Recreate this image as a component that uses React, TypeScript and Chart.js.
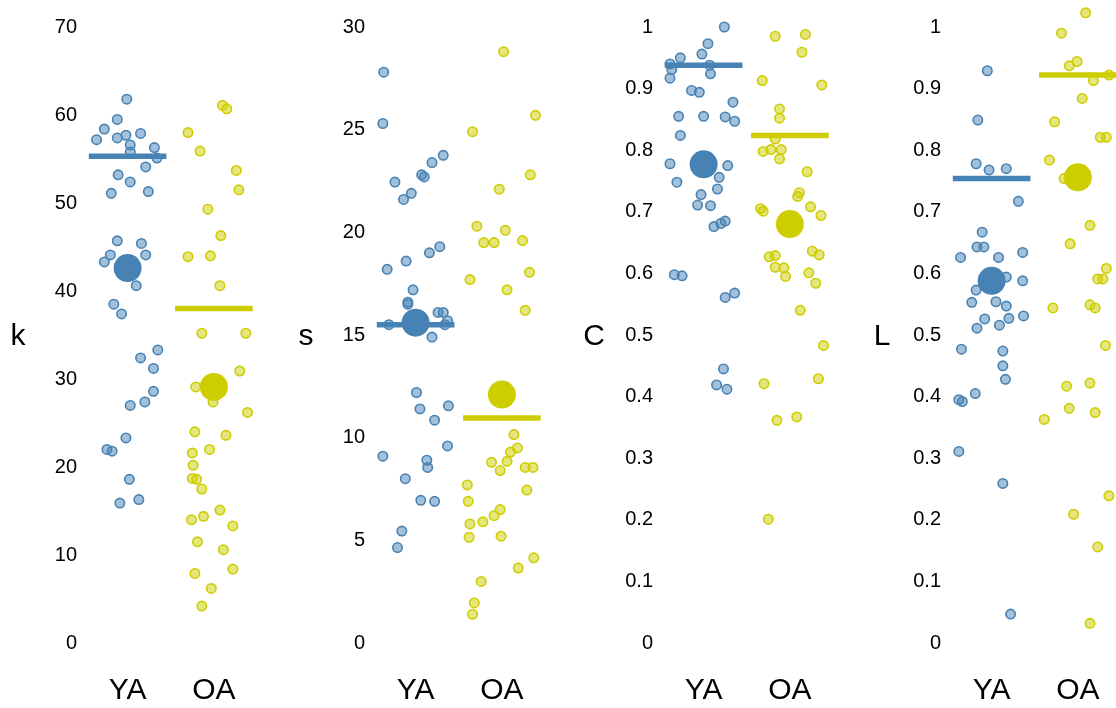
import React, { useEffect, useRef } from "react";
import { Chart, registerables } from "chart.js";

Chart.register(...registerables);

// ---------- data ----------
const categories = ["YA", "OA"];
const panelTitles = ["k", "s", "C", "L"];

// k panel
const kYA = [61.8, 59.5, 58.4, 57.2, 57.4, 57.7, 57.9, 56.6, 56.3, 55.8, 55.1, 54.1, 53.2, 52.4, 51.1, 51.3, 45.7, 45.4, 44.1, 44.1, 43.3, 40.6, 38.5, 37.4, 33.3, 32.4, 31.2, 28.6, 27.4, 27.0, 23.3, 22.0, 21.8, 18.6, 15.9, 16.3];
const kYAJitter = [-0.01, -0.12, -0.27, -0.36, -0.12, -0.02, 0.15, 0.03, 0.31, 0.03, 0.34, 0.21, -0.11, 0.03, -0.19, 0.24, -0.12, 0.16, -0.2, 0.21, -0.27, 0.1, -0.16, -0.07, 0.35, 0.15, 0.3, 0.3, 0.2, 0.03, -0.02, -0.24, -0.18, 0.02, -0.09, 0.13];
const kOA = [61.1, 60.7, 58.0, 55.9, 53.7, 51.5, 49.3, 46.3, 43.9, 44.0, 40.6, 35.2, 35.2, 30.9, 29.1, 27.4, 26.2, 24.0, 23.6, 22.0, 21.6, 20.2, 18.7, 18.6, 17.5, 15.1, 14.4, 14.0, 13.3, 11.5, 10.6, 7.9, 8.4, 6.2, 4.2];
const kOAJitter = [0.1, 0.15, -0.3, -0.16, 0.26, 0.29, -0.07, 0.08, -0.3, -0.04, 0.07, -0.14, 0.37, 0.3, -0.21, -0.01, 0.39, -0.22, 0.14, -0.05, -0.25, -0.24, -0.25, -0.2, -0.14, 0.07, -0.12, -0.26, 0.22, -0.19, 0.11, -0.22, 0.22, -0.03, -0.14];
const kMeans = [42.6, 29.1];
const kLines = [55.3, 38.0];
const kTicks = [0, 10, 20, 30, 40, 50, 60, 70];

// s panel
const sYA = [27.8, 25.3, 23.75, 23.4, 22.8, 22.7, 22.45, 21.9, 21.6, 19.3, 19.0, 18.6, 18.2, 17.2, 16.6, 16.5, 16.1, 16.1, 15.7, 15.5, 15.5, 14.9, 12.2, 11.4, 11.55, 10.85, 9.6, 9.1, 8.9, 8.55, 8.0, 6.95, 6.9, 5.45, 4.65];
const sYAJitter = [-0.37, -0.38, 0.32, 0.19, 0.07, 0.1, -0.24, -0.05, -0.14, 0.28, 0.16, -0.11, -0.33, -0.03, -0.09, -0.09, 0.26, 0.32, 0.37, 0.34, -0.31, 0.19, 0.01, 0.05, 0.38, 0.22, 0.37, -0.38, 0.13, 0.14, -0.12, 0.06, 0.22, -0.16, -0.21];
const sOA = [28.8, 25.7, 24.9, 22.8, 22.1, 20.3, 20.1, 19.5, 19.5, 19.6, 18.05, 17.7, 17.2, 16.2, 10.15, 9.5, 9.3, 8.8, 8.85, 8.4, 8.55, 8.55, 7.7, 7.45, 6.9, 6.5, 6.2, 5.9, 5.8, 5.15, 5.2, 4.15, 3.65, 3.0, 1.95, 1.4];
const sOAJitter = [0.02, 0.39, -0.34, 0.33, -0.03, -0.29, 0.04, -0.21, -0.09, 0.24, 0.32, -0.37, 0.06, 0.27, 0.14, 0.18, 0.1, -0.12, 0.06, -0.02, 0.27, 0.36, -0.4, 0.29, -0.39, -0.02, -0.09, -0.22, -0.37, -0.38, -0.01, 0.37, 0.19, -0.24, -0.32, -0.34];
const sMeans = [15.6, 12.1];
const sLines = [15.5, 10.96];
const sTicks = [0, 5, 10, 15, 20, 25, 30];

// C panel
const cYA = [1.0, 0.973, 0.956, 0.95, 0.94, 0.931, 0.938, 0.924, 0.917, 0.897, 0.894, 0.878, 0.855, 0.855, 0.854, 0.847, 0.824, 0.778, 0.775, 0.756, 0.748, 0.737, 0.728, 0.711, 0.71, 0.685, 0.681, 0.676, 0.598, 0.596, 0.561, 0.568, 0.445, 0.419, 0.412];
const cYAJitter = [0.24, 0.05, -0.02, -0.27, -0.39, -0.37, 0.07, 0.08, -0.39, -0.14, -0.05, 0.34, -0.29, 0.0, 0.25, 0.36, -0.27, -0.39, 0.28, 0.18, -0.31, 0.16, -0.03, -0.07, 0.08, 0.25, 0.2, 0.12, -0.34, -0.25, 0.25, 0.36, 0.23, 0.15, 0.27];
const cOA = [0.985, 0.988, 0.959, 0.913, 0.906, 0.867, 0.852, 0.818, 0.798, 0.801, 0.801, 0.786, 0.765, 0.731, 0.725, 0.705, 0.701, 0.708, 0.694, 0.627, 0.629, 0.636, 0.63, 0.61, 0.609, 0.595, 0.601, 0.584, 0.54, 0.483, 0.421, 0.429, 0.3615, 0.367, 0.201];
const cOAJitter = [-0.17, 0.18, 0.14, -0.32, 0.37, -0.12, -0.12, -0.17, -0.31, -0.22, -0.1, -0.12, 0.2, 0.11, 0.09, -0.34, -0.31, 0.24, 0.36, -0.24, -0.17, 0.26, 0.34, -0.17, -0.07, -0.05, 0.22, 0.3, 0.12, 0.39, -0.3, 0.33, -0.15, 0.08, -0.25];
const cMeans = [0.777, 0.68];
const cLines = [0.938, 0.824];
const cTicks = [0, 0.1, 0.2, 0.3, 0.4, 0.5, 0.6, 0.7, 0.8, 0.9, 1];

// L panel
const lYA = [0.929, 0.849, 0.778, 0.768, 0.77, 0.717, 0.667, 0.643, 0.643, 0.626, 0.626, 0.634, 0.594, 0.588, 0.573, 0.553, 0.554, 0.547, 0.531, 0.526, 0.527, 0.511, 0.516, 0.477, 0.474, 0.45, 0.428, 0.405, 0.395, 0.392, 0.311, 0.259, 0.047];
const lYAJitter = [-0.05, -0.16, -0.18, -0.03, 0.17, 0.31, -0.11, -0.17, -0.09, -0.36, 0.08, 0.36, 0.17, 0.36, -0.18, -0.23, 0.05, 0.17, 0.37, -0.08, 0.2, -0.17, 0.09, -0.35, 0.13, 0.13, 0.16, -0.19, -0.38, -0.34, -0.38, 0.13, 0.22];
const lOA = [1.023, 0.99, 0.944, 0.937, 0.913, 0.922, 0.884, 0.846, 0.821, 0.821, 0.784, 0.754, 0.678, 0.648, 0.608, 0.591, 0.591, 0.544, 0.549, 0.544, 0.483, 0.417, 0.422, 0.381, 0.374, 0.363, 0.239, 0.209, 0.156, 0.032];
const lOAJitter = [0.09, -0.19, -0.01, -0.1, 0.18, 0.36, 0.05, -0.27, 0.26, 0.33, -0.33, -0.16, 0.14, -0.09, 0.33, 0.23, 0.29, -0.29, 0.14, 0.2, 0.32, -0.13, 0.14, -0.1, 0.2, -0.39, 0.36, -0.05, 0.23, 0.14];
const lMeans = [0.588, 0.756];
const lLines = [0.754, 0.922];
const lTicks = [0, 0.1, 0.2, 0.3, 0.4, 0.5, 0.6, 0.7, 0.8, 0.9, 1];

// ---------- styling ----------
const FONT = '"Liberation Sans", Arial, Helvetica, sans-serif';
const COLORS = ["#4682B4", "#CDCD00"];
const FILLS = ["rgba(70,130,180,0.5)", "rgba(205,205,0,0.5)"];
const PANEL_W = 288;
const PANEL_H = 708;
const TOP_EXTRA = 0.04; // headroom above the top tick (fraction of tick range)
const TICK_SPAN_PX = 616; // pixel span from first to last tick

type Panel = {
  title: string;
  groups: number[][];
  jitters: number[][];
  means: number[];
  lines: number[];
  ticks: number[];
};

const panels: Panel[] = [
  { title: panelTitles[0], groups: [kYA, kOA], jitters: [kYAJitter, kOAJitter], means: kMeans, lines: kLines, ticks: kTicks },
  { title: panelTitles[1], groups: [sYA, sOA], jitters: [sYAJitter, sOAJitter], means: sMeans, lines: sLines, ticks: sTicks },
  { title: panelTitles[2], groups: [cYA, cOA], jitters: [cYAJitter, cOAJitter], means: cMeans, lines: cLines, ticks: cTicks },
  { title: panelTitles[3], groups: [lYA, lOA], jitters: [lYAJitter, lOAJitter], means: lMeans, lines: lLines, ticks: lTicks },
];

function PanelChart({ panel }: { panel: Panel }) {
  const ref = useRef<HTMLCanvasElement | null>(null);
  useEffect(() => {
    if (!ref.current) return;
    const datasets: any[] = [];
    categories.forEach((cat, gi) => {
      const center = gi + 1;
      datasets.push({
        label: cat + " points",
        data: panel.groups[gi].map((v, i) => ({ x: center + panel.jitters[gi][i], y: v })),
        backgroundColor: FILLS[gi],
        borderColor: COLORS[gi],
        borderWidth: 1.6,
        pointRadius: 4.7,
        pointHoverRadius: 4.7,
        clip: false,
        order: 2,
      });
      datasets.push({
        label: cat + " line",
        data: [
          { x: center - 0.45, y: panel.lines[gi] },
          { x: center + 0.45, y: panel.lines[gi] },
        ],
        showLine: true,
        borderColor: COLORS[gi],
        borderWidth: 5.5,
        borderCapStyle: "butt",
        pointRadius: 0,
        pointHoverRadius: 0,
        clip: false,
        order: 1,
      });
      datasets.push({
        label: cat + " mean",
        data: [{ x: center, y: panel.means[gi] }],
        backgroundColor: COLORS[gi],
        borderColor: COLORS[gi],
        borderWidth: 0,
        pointRadius: 14,
        pointHoverRadius: 14,
        clip: false,
        order: 0,
      });
    });

    const ticks = panel.ticks;
    const first = ticks[0];
    const last = ticks[ticks.length - 1];
    const range = last - first;

    const titlePlugin = {
      id: "panelTitle",
      afterDraw(chart: any) {
        const { ctx } = chart;
        const yMid = chart.scales.y.getPixelForValue((first + last) / 2);
        ctx.save();
        ctx.font = `30px ${FONT}`;
        ctx.fillStyle = "#000";
        ctx.textAlign = "center";
        ctx.textBaseline = "alphabetic";
        ctx.fillText(panel.title, 18, yMid + 10);
        ctx.restore();
      },
    };

    const chart = new Chart(ref.current, {
      type: "scatter",
      data: { datasets },
      options: {
        animation: false,
        responsive: false,
        maintainAspectRatio: false,
        events: [],
        layout: {
          autoPadding: false,
          padding: { left: 0, right: PANEL_W - 257, top: 27 - TOP_EXTRA * TICK_SPAN_PX, bottom: 0 },
        },
        plugins: { legend: { display: false }, tooltip: { enabled: false } },
        scales: {
          x: {
            type: "linear",
            min: 0.5,
            max: 2.5,
            afterBuildTicks: (s: any) => {
              s.ticks = categories.map((_, i) => ({ value: i + 1 }));
            },
            afterFit: (s: any) => {
              s.height = 65;
              s.paddingLeft = 0;
              s.paddingRight = 0;
            },
            ticks: {
              callback: (v: any) => categories[Math.round(Number(v)) - 1] ?? "",
              font: { size: 30, family: FONT },
              color: "#000",
              padding: 30,
              maxRotation: 0,
              autoSkip: false,
            },
            grid: { display: false, drawTicks: false },
            border: { display: false },
          },
          y: {
            type: "linear",
            min: first,
            max: last + TOP_EXTRA * range,
            afterBuildTicks: (s: any) => {
              s.ticks = ticks.map((t) => ({ value: t }));
            },
            afterFit: (s: any) => {
              s.width = 84.5;
              s.paddingTop = 0;
              s.paddingBottom = 0;
            },
            ticks: {
              callback: (v: any) => String(Number(Number(v).toFixed(2))),
              font: { size: 20, family: FONT },
              color: "#000",
              padding: 7.5,
              autoSkip: false,
            },
            grid: { display: false, drawTicks: false },
            border: { display: false },
          },
        },
      } as any,
      plugins: [titlePlugin],
    });
    return () => chart.destroy();
  }, [panel]);
  return (
    <canvas
      ref={ref}
      width={PANEL_W}
      height={PANEL_H}
      style={{ display: "block", width: PANEL_W, height: PANEL_H }}
    />
  );
}

export default function App() {
  return (
    <div
      style={{
        position: "fixed",
        left: 0,
        top: 0,
        width: 1116,
        height: 708,
        overflow: "hidden",
        background: "#fff",
      }}
    >
      {panels.map((p, i) => (
        <div key={p.title} style={{ position: "absolute", left: i * PANEL_W, top: 0, width: PANEL_W, height: PANEL_H }}>
          <PanelChart panel={p} />
        </div>
      ))}
    </div>
  );
}
